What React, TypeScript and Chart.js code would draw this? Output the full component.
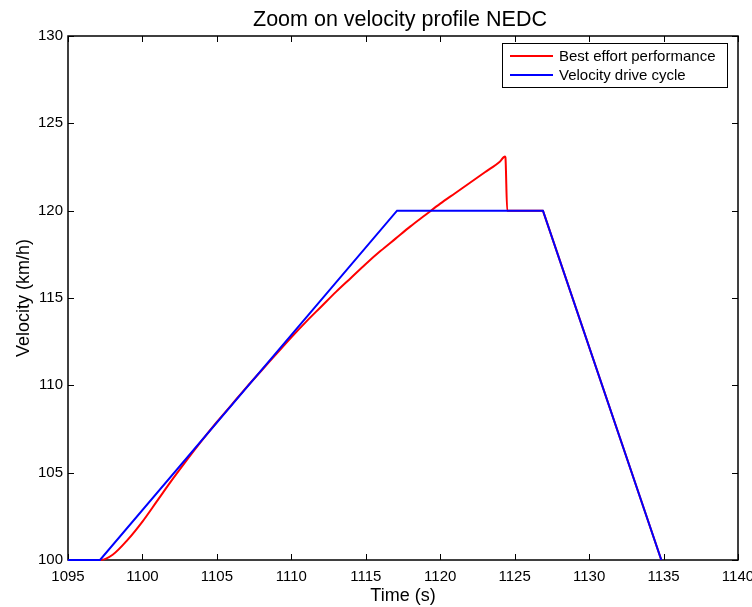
import React, { useEffect, useRef } from "react";
import { Chart, registerables } from "chart.js";

Chart.register(...registerables);

const titleText = "Zoom on velocity profile NEDC";
const xLabel = "Time (s)";
const yLabel = "Velocity (km/h)";

const xTicks = [1095, 1100, 1105, 1110, 1115, 1120, 1125, 1130, 1135, 1140];
const yTicks = [100, 105, 110, 115, 120, 125, 130];

const redLabel = "Best effort performance";
const redTime = [1095, 1097.2, 1098, 1099, 1100, 1101, 1102, 1103, 1104, 1105, 1106, 1107, 1108, 1109, 1110, 1111, 1112, 1113, 1114, 1115, 1116, 1117, 1118, 1119, 1120, 1121, 1122, 1123, 1124, 1124.35, 1124.38, 1124.5, 1126.9, 1126.95, 1134.85];
const redVel = [100, 100, 100.3, 101.15, 102.2, 103.4, 104.6, 105.75, 106.85, 107.9, 108.9, 109.9, 110.85, 111.8, 112.75, 113.65, 114.5, 115.35, 116.15, 116.95, 117.7, 118.4, 119.1, 119.75, 120.4, 121.0, 121.6, 122.2, 122.8, 123.1, 123.05, 120, 120, 119.875, 100];

const blueLabel = "Velocity drive cycle";
const blueTime = [1095, 1097.15, 1117.1, 1126.9, 1134.85];
const blueVel = [100, 100, 120, 120, 100];

const FONT = "'Liberation Sans', Arial, Helvetica, sans-serif";

const matlabPlugin = {
  id: "matlabDecor",
  beforeDatasetsDraw(chart: any) {
    const ctx = chart.ctx;
    const area = chart.chartArea;
    const xs = chart.scales.x;
    const ys = chart.scales.y;
    ctx.save();
    ctx.strokeStyle = "#000";
    ctx.lineWidth = 1.5;
    ctx.strokeRect(area.left, area.top, area.right - area.left, area.bottom - area.top);
    ctx.lineWidth = 1;
    const tl = 6;
    ctx.beginPath();
    for (const v of xTicks) {
      const px = Math.round(xs.getPixelForValue(v)) + 0.5;
      ctx.moveTo(px, area.bottom);
      ctx.lineTo(px, area.bottom - tl);
      ctx.moveTo(px, area.top);
      ctx.lineTo(px, area.top + tl);
    }
    for (const v of yTicks) {
      const py = Math.round(ys.getPixelForValue(v)) + 0.5;
      ctx.moveTo(area.left, py);
      ctx.lineTo(area.left + tl, py);
      ctx.moveTo(area.right, py);
      ctx.lineTo(area.right - tl, py);
    }
    ctx.stroke();
    ctx.restore();
  },
  afterDraw(chart: any) {
    const ctx = chart.ctx;
    const area = chart.chartArea;
    ctx.save();
    ctx.fillStyle = "#000";
    ctx.textAlign = "center";
    ctx.textBaseline = "alphabetic";
    ctx.font = `21.5px ${FONT}`;
    ctx.fillText(titleText, (area.left + area.right) / 2 - 3, 26);

    ctx.font = `18px ${FONT}`;
    ctx.fillText(xLabel, (area.left + area.right) / 2, 601);

    ctx.save();
    ctx.translate(29, (area.top + area.bottom) / 2);
    ctx.rotate(-Math.PI / 2);
    ctx.fillText(yLabel, 0, 0);
    ctx.restore();

    const lx = 502, ly = 43, lw = 225, lh = 44;
    ctx.fillStyle = "#fff";
    ctx.fillRect(lx, ly, lw, lh);
    ctx.strokeStyle = "#000";
    ctx.lineWidth = 1;
    ctx.strokeRect(lx + 0.5, ly + 0.5, lw, lh);
    ctx.font = `15px ${FONT}`;
    ctx.textAlign = "left";
    ctx.textBaseline = "middle";
    const rows = [56, 75];
    chart.data.datasets.forEach((ds: any, i: number) => {
      const y = rows[i];
      ctx.strokeStyle = ds.borderColor;
      ctx.lineWidth = 2;
      ctx.beginPath();
      ctx.moveTo(510, y);
      ctx.lineTo(553, y);
      ctx.stroke();
      ctx.fillStyle = "#000";
      ctx.fillText(ds.label, 559, y + 1);
    });
    ctx.restore();
  },
};

export default function App() {
  const ref = useRef<HTMLCanvasElement | null>(null);
  useEffect(() => {
    document.body.style.margin = "0";
    const canvas = ref.current;
    if (!canvas) return;
    const chart = new Chart(canvas, {
      type: "line",
      data: {
        datasets: [
          {
            label: redLabel,
            data: redTime.map((t, i) => ({ x: t, y: redVel[i] })),
            borderColor: "#ff0000",
            borderWidth: 2,
            pointRadius: 0,
            cubicInterpolationMode: "monotone",
            fill: false,
            clip: false,
            order: 1,
          },
          {
            label: blueLabel,
            data: blueTime.map((t, i) => ({ x: t, y: blueVel[i] })),
            borderColor: "#0000ff",
            borderWidth: 2,
            pointRadius: 0,
            tension: 0,
            fill: false,
            clip: false,
            order: 0,
          },
        ],
      },
      options: {
        responsive: false,
        animation: false,
        layout: { padding: { top: 36, right: 14, left: 0, bottom: 0 } },
        plugins: {
          legend: { display: false },
          title: { display: false },
          tooltip: { enabled: false },
        },
        events: [],
        scales: {
          x: {
            type: "linear",
            min: 1095,
            max: 1140,
            afterBuildTicks: (s: any) => {
              s.ticks = xTicks.map((v) => ({ value: v }));
            },
            afterFit: (s: any) => {
              s.height = 47;
              s.paddingLeft = 0;
              s.paddingRight = 0;
            },
            grid: { display: false, drawTicks: false },
            border: { display: false },
            ticks: {
              autoSkip: false,
              maxRotation: 0,
              padding: 8,
              color: "#000",
              font: { family: FONT, size: 15 },
              callback: (v: any) => String(v),
            },
          },
          y: {
            type: "linear",
            min: 100,
            max: 130,
            afterBuildTicks: (s: any) => {
              s.ticks = yTicks.map((v) => ({ value: v }));
            },
            afterFit: (s: any) => {
              s.width = 68;
              s.paddingTop = 0;
              s.paddingBottom = 0;
            },
            grid: { display: false, drawTicks: false },
            border: { display: false },
            ticks: {
              autoSkip: false,
              padding: 5,
              color: "#000",
              font: { family: FONT, size: 15 },
              callback: (v: any) => String(v),
            },
          },
        },
      },
      plugins: [matlabPlugin],
    });
    return () => chart.destroy();
  }, []);
  return (
    <div style={{ position: "absolute", left: 0, top: 0, width: 752, height: 607, background: "#fff" }}>
      <canvas ref={ref} width={752} height={607} />
    </div>
  );
}
